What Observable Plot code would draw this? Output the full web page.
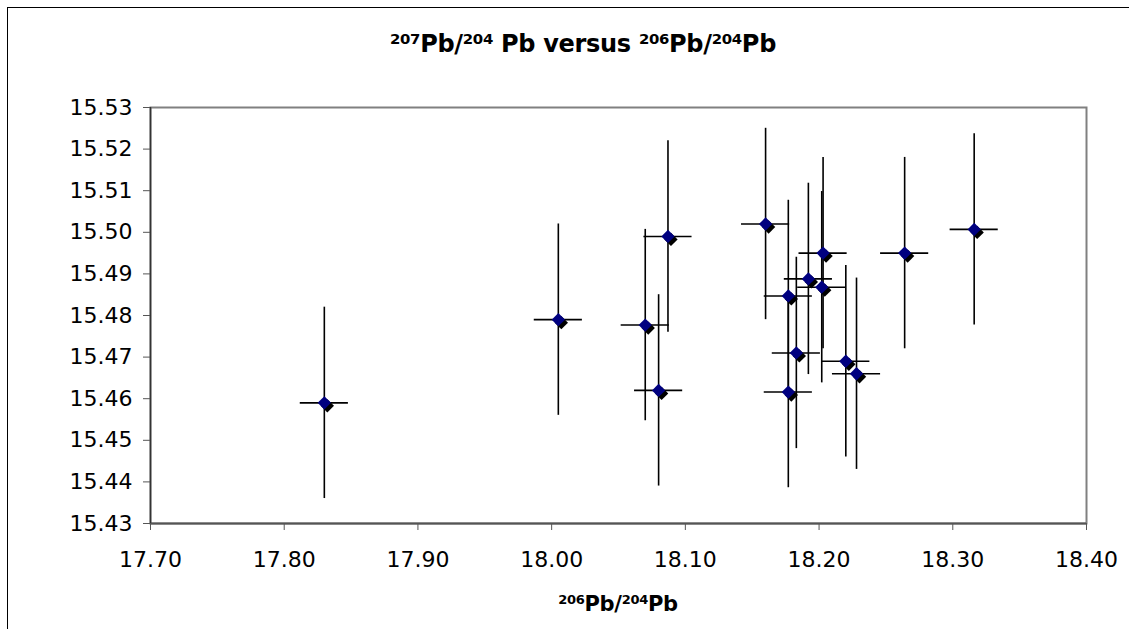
<!DOCTYPE html>
<html><head><meta charset="utf-8">
<script src="https://cdn.jsdelivr.net/npm/d3@7"></script>
<script src="https://cdn.jsdelivr.net/npm/@observablehq/plot@0.6"></script>
<style>
html,body{margin:0;padding:0;background:#fff;overflow:hidden;width:1129px;height:629px;}
#wrap{position:relative;width:1129px;height:629px;overflow:hidden;}
#border{position:absolute;left:7px;top:7px;width:1300px;height:800px;border:1px solid #000;box-sizing:border-box;}
#title{position:absolute;left:0;width:1166px;top:28px;text-align:center;font:bold 24px "DejaVu Sans";color:#000;line-height:32px;letter-spacing:-0.3px;}
#xlabel{position:absolute;left:0;width:1236px;top:589px;text-align:center;font:bold 21px "DejaVu Sans";color:#000;line-height:30px;letter-spacing:-0.3px;}
sup{font-size:0.62em;line-height:0;vertical-align:0.55em;}
#chart{position:absolute;left:0;top:0;}
</style></head>
<body><div id="wrap"><div id="border"></div><div id="chart"></div>
<div id="title"><sup>207</sup>Pb/<sup>204</sup> Pb versus <sup>206</sup>Pb/<sup>204</sup>Pb</div>
<div id="xlabel"><sup>206</sup>Pb/<sup>204</sup>Pb</div>
</div>
<script>
const pb206_204 = [17.830, 18.005, 18.070, 18.080, 18.087, 18.160, 18.177, 18.177, 18.183, 18.192, 18.202, 18.203, 18.220, 18.228, 18.264, 18.316];
const pb207_204 = [15.459, 15.479, 15.4777, 15.462, 15.499, 15.502, 15.4847, 15.4616, 15.471, 15.4888, 15.4868, 15.495, 15.469, 15.466, 15.495, 15.5007];
const err206 = [0.018, 0.018, 0.018, 0.018, 0.018, 0.018, 0.018, 0.018, 0.018, 0.018, 0.018, 0.018, 0.018, 0.018, 0.018, 0.018];
const err207 = [0.023, 0.023, 0.023, 0.023, 0.023, 0.023, 0.023, 0.023, 0.023, 0.023, 0.023, 0.023, 0.023, 0.023, 0.023, 0.023];
const xTicks = [17.70, 17.80, 17.90, 18.00, 18.10, 18.20, 18.30, 18.40];
const yTicks = [15.43, 15.44, 15.45, 15.46, 15.47, 15.48, 15.49, 15.50, 15.51, 15.52, 15.53];

const data = pb206_204.map((x, i) => ({x, y: pb207_204[i], ex: err206[i], ey: err207[i]}));
const fmt = d3.format(".2f");

const plot = Plot.plot({
  width: 1129, height: 629,
  marginLeft: 150, marginRight: 43, marginTop: 107, marginBottom: 106,
  style: {fontFamily: "DejaVu Sans", fontSize: "22px", color: "#000", background: "transparent"},
  x: {domain: [17.70, 18.40]},
  y: {domain: [15.43, 15.53]},
  marks: [
    Plot.frame({stroke: "#808080", strokeWidth: 2}),
    Plot.ruleY([15.43], {stroke: "#555", strokeWidth: 2}),
    Plot.ruleX([17.70], {stroke: "#333", strokeWidth: 1.5}),
    Plot.axisX({ticks: xTicks, tickFormat: fmt, tickSize: 7, tickPadding: 21, stroke: "#555", label: null, fontSize: 22}),
    Plot.axisY({ticks: yTicks, tickFormat: fmt, tickSize: 7, tickPadding: 11, stroke: "#555", label: null, fontSize: 22}),
    Plot.ruleX(data, {x: "x", y1: d => d.y - d.ey, y2: d => d.y + d.ey, stroke: "#000", strokeWidth: 1.6}),
    Plot.ruleY(data, {y: "y", x1: d => d.x - d.ex, x2: d => d.x + d.ex, stroke: "#000", strokeWidth: 1.6}),
    Plot.dot(data, {x: "x", y: "y", symbol: "diamond2", r: 6, fill: "#000", stroke: "none", dx: 3, dy: 3}),
    Plot.dot(data, {x: "x", y: "y", symbol: "diamond2", r: 6, fill: "#000080", stroke: "none"})
  ]
});
document.getElementById("chart").appendChild(plot);
</script>
</body></html>
